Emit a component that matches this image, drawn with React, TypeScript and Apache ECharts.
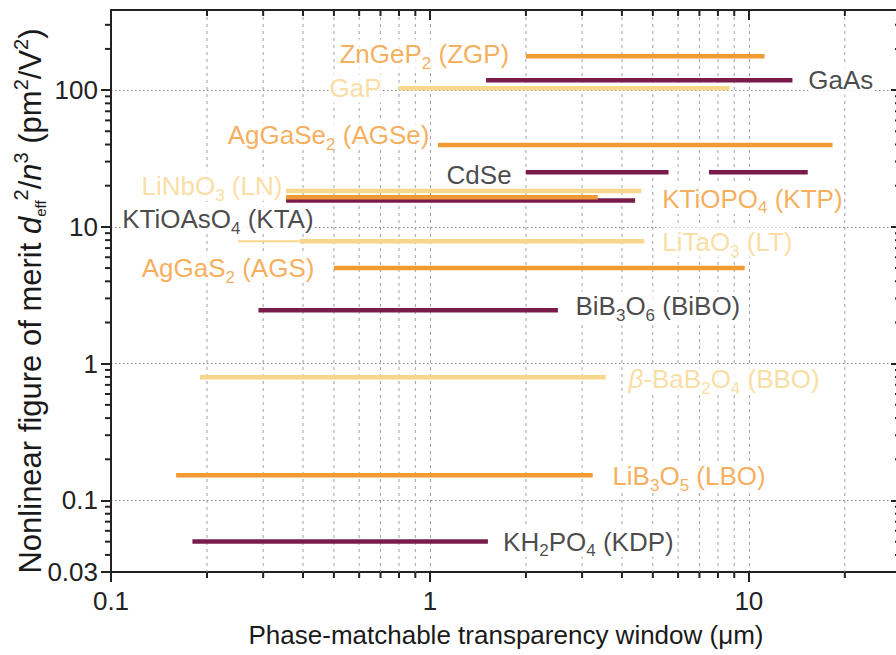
import { useEffect, useRef } from "react";
import * as echarts from "echarts";

const FONT = "'Liberation Sans', Arial, Helvetica, sans-serif";
const COLORS: Record<string, string> = {
  orange: "#F39A33",
  purple: "#7A1C4B",
  yellow: "#F8D68C",
  black: "#1a1a1a",
};
const AXIS_COLOR = "#222";

const X_MIN = 0.1;
const X_MAX = 30;
const Y_MIN = 0.03;
const Y_MAX = 385;

// tick labels
const xTickLabels = ["0.1", "1", "10"];
const yTickLabels = ["0.03", "0.1", "1", "10", "100"];
const xMinorTicks = [0.2, 0.3, 0.4, 0.5, 0.6, 0.7, 0.8, 0.9, 2, 3, 4, 5, 6, 7, 8, 9, 20];
const yMinorTicks = [
  0.04, 0.05, 0.06, 0.07, 0.08, 0.09,
  0.2, 0.3, 0.4, 0.5, 0.6, 0.7, 0.8, 0.9,
  2, 3, 4, 5, 6, 7, 8, 9,
  20, 30, 40, 50, 60, 70, 80, 90,
  200, 300,
];

// segments: phase-matchable transparency window (µm) vs figure of merit
const segCrystal = ["ZGP", "GaAs", "GaP", "AGSe", "CdSe", "CdSe", "LN", "KTA", "KTP", "LT", "LT", "AGS", "BiBO", "BBO", "LBO", "KDP"];
const segGroup = ["orange", "purple", "yellow", "orange", "purple", "purple", "yellow", "purple", "orange", "yellow", "yellow", "orange", "purple", "yellow", "orange", "purple"];
const segStart = [2.0, 1.5, 0.8, 1.06, 2.0, 7.5, 0.354, 0.354, 0.354, 0.25, 0.39, 0.5, 0.29, 0.19, 0.16, 0.18];
const segEnd = [11.2, 13.7, 8.7, 18.3, 5.6, 15.3, 4.6, 4.4, 3.36, 0.39, 4.7, 9.7, 2.52, 3.56, 3.24, 1.52];
const segMerit = [177, 118, 103, 39.6, 25.1, 25.1, 18.3, 15.6, 16.5, 7.85, 7.85, 5.0, 2.46, 0.795, 0.153, 0.0502];
const segThin = [false, false, false, false, false, false, false, false, false, true, false, false, false, false, false, false];

// labels
const labelTexts = [
  "ZnGeP{s|2} (ZGP)",
  "GaAs",
  "GaP",
  "AgGaSe{s|2} (AGSe)",
  "CdSe",
  "LiNbO{s|3} (LN)",
  "KTiOPO{s|4} (KTP)",
  "KTiOAsO{s|4} (KTA)",
  "LiTaO{s|3} (LT)",
  "AgGaS{s|2} (AGS)",
  "BiB{s|3}O{s|6} (BiBO)",
  "{i|β}-BaB{s|2}O{s|4} (BBO)",
  "LiB{s|3}O{s|5} (LBO)",
  "KH{s|2}PO{s|4} (KDP)",
];
const labelGroup = ["orange", "black", "yellow", "orange", "black", "yellow", "orange", "black", "yellow", "orange", "black", "yellow", "orange", "black"];
const labelX = [1.78, 15.3, 0.708, 1.0, 1.81, 0.346, 5.33, 0.108, 5.33, 0.436, 2.85, 4.18, 3.72, 1.69];
const labelY = [183, 118, 103, 46.9, 23.9, 19.9, 16.0, 11.4, 7.73, 5.0, 2.63, 0.769, 0.15, 0.05];
const labelSide = ["left", "right", "left", "left", "left", "left", "right", "right", "right", "left", "right", "right", "right", "right"];

const X_TITLE = "Phase-matchable transparency window (μm)";
const Y_TITLE = "Nonlinear figure of merit {i|d}{e|eff}{p|2}/{i|n}{p|3} (pm{p|2}/V{p|2})";

function matchLabel(list: string[], v: number): string {
  const m = list.find((s) => Math.abs(Math.log10(parseFloat(s)) - Math.log10(v)) < 1e-6);
  return m ?? "";
}

function makeRich(color: string) {
  return {
    s: { fontSize: 17, lineHeight: 17, padding: [18, 0, 0, 0], color, fontFamily: FONT },
    i: { fontSize: 26, lineHeight: 30, fontStyle: "italic", color, fontFamily: FONT },
  };
}

export default function App() {
  const ref = useRef<HTMLDivElement>(null);

  useEffect(() => {
    if (!ref.current) return;
    const chart = echarts.init(ref.current, undefined, { renderer: "svg" });

    const segmentSeries = segCrystal.map((name, i) => ({
      type: "line",
      name,
      xAxisIndex: 0,
      yAxisIndex: 0,
      data: [
        [segStart[i], segMerit[i]],
        [segEnd[i], segMerit[i]],
      ],
      symbol: "none",
      showSymbol: false,
      silent: true,
      z: 3,
      lineStyle: { color: COLORS[segGroup[i]], width: segThin[i] ? 2 : 4.5, cap: "butt" },
    }));

    const labelSeries = {
      type: "scatter",
      xAxisIndex: 0,
      yAxisIndex: 0,
      symbolSize: 1,
      silent: true,
      z: 2,
      itemStyle: { color: "rgba(0,0,0,0)" },
      data: labelTexts.map((t, i) => ({
        value: [labelX[i], labelY[i]],
        label: {
          show: true,
          position: labelSide[i],
          distance: 0,
          formatter: t,
          color: COLORS[labelGroup[i]],
          fontSize: 26,
          lineHeight: 30,
          fontFamily: FONT,
          backgroundColor: "#fff",
          rich: makeRich(COLORS[labelGroup[i]]),
        },
      })),
    };

    const minorGrid = {
      type: "custom",
      xAxisIndex: 0,
      yAxisIndex: 0,
      silent: true,
      clip: false,
      z: 1,
      data: xMinorTicks.map((v) => [v, 1]),
      renderItem: (_p: any, api: any) => {
        const v = api.value(0);
        const b = api.coord([v, Y_MIN]);
        const t = api.coord([v, Y_MAX]);
        return {
          type: "line",
          shape: { x1: b[0], y1: t[1], x2: b[0], y2: b[1] },
          style: { stroke: "#a0a0a0", lineWidth: 1, lineDash: [3, 4] },
        };
      },
    };

    const xMinorTickSeries = {
      type: "custom",
      xAxisIndex: 0,
      yAxisIndex: 0,
      silent: true,
      clip: false,
      z: 6,
      data: xMinorTicks.map((v) => [v, 1]),
      renderItem: (_p: any, api: any) => {
        const v = api.value(0);
        const b = api.coord([v, Y_MIN]);
        const t = api.coord([v, Y_MAX]);
        return {
          type: "group",
          children: [
            { type: "line", shape: { x1: b[0], y1: b[1], x2: b[0], y2: b[1] + 6 }, style: { stroke: AXIS_COLOR, lineWidth: 2 } },
            { type: "line", shape: { x1: t[0], y1: t[1], x2: t[0], y2: t[1] + 6 }, style: { stroke: AXIS_COLOR, lineWidth: 2 } },
          ],
        };
      },
    };

    const yMinorTickSeries = {
      type: "custom",
      xAxisIndex: 0,
      yAxisIndex: 0,
      silent: true,
      clip: false,
      z: 6,
      data: yMinorTicks.map((v) => [1, v]),
      renderItem: (_p: any, api: any) => {
        const v = api.value(1);
        const l = api.coord([X_MIN, v]);
        const r = api.coord([X_MAX, v]);
        return {
          type: "group",
          children: [
            { type: "line", shape: { x1: l[0] - 6, y1: l[1], x2: l[0], y2: l[1] }, style: { stroke: AXIS_COLOR, lineWidth: 2 } },
            { type: "line", shape: { x1: r[0] - 6, y1: r[1], x2: r[0], y2: r[1] }, style: { stroke: AXIS_COLOR, lineWidth: 2 } },
          ],
        };
      },
    };

    const axisCommon = {
      type: "log",
      logBase: 10,
      axisLine: { show: true, onZero: false, lineStyle: { color: AXIS_COLOR, width: 2 } },
      axisTick: { show: true, length: 10, lineStyle: { color: AXIS_COLOR, width: 2 } },
      minorTick: { show: false },
      minorSplitLine: { show: false },
    };

    const option: any = {
      animation: false,
      backgroundColor: "#fff",
      textStyle: { fontFamily: FONT },
      grid: {
        left: 111,
        top: 10,
        right: -5,
        bottom: 83,
        containLabel: false,
        outerBoundsMode: "none",
      },
      xAxis: [
        {
          ...axisCommon,
          position: "bottom",
          min: X_MIN,
          max: X_MAX,
          axisTick: { ...axisCommon.axisTick, inside: false },
          axisLabel: {
            show: true,
            fontSize: 26,
            color: AXIS_COLOR,
            fontFamily: FONT,
            margin: 16,
            showMinLabel: true,
            showMaxLabel: false,
            formatter: (v: number) => matchLabel(xTickLabels, v),
          },
          splitLine: { show: true, lineStyle: { color: "#a0a0a0", width: 1, type: [3, 4] } },
          name: X_TITLE,
          nameLocation: "middle",
          nameGap: 50,
          nameMoveOverlap: false,
          nameTextStyle: { fontSize: 26, color: COLORS.black, fontFamily: FONT },
        },
        {
          ...axisCommon,
          position: "top",
          min: X_MIN,
          max: X_MAX,
          axisTick: { ...axisCommon.axisTick, inside: true },
          axisLabel: { show: false },
          splitLine: { show: false },
        },
      ],
      yAxis: [
        {
          ...axisCommon,
          position: "left",
          min: Y_MIN,
          max: Y_MAX,
          axisTick: { ...axisCommon.axisTick, inside: false },
          axisLabel: {
            show: true,
            fontSize: 26,
            color: AXIS_COLOR,
            fontFamily: FONT,
            margin: 13,
            showMinLabel: true,
            showMaxLabel: false,
            formatter: (v: number) => matchLabel(yTickLabels, v),
          },
          splitLine: { show: true, lineStyle: { color: "#808080", width: 1.2, type: [1.5, 2.5] } },
          name: Y_TITLE,
          nameLocation: "middle",
          nameGap: 63,
          nameRotate: 90,
          nameMoveOverlap: false,
          nameTextStyle: {
            fontSize: 31,
            lineHeight: 36,
            color: COLORS.black,
            fontFamily: FONT,
            padding: [0, 20, 0, 0],
            rich: {
              i: { fontSize: 31, lineHeight: 36, fontStyle: "italic", color: COLORS.black, fontFamily: FONT },
              e: { fontSize: 15, lineHeight: 15, padding: [21, 0, 0, 0], color: COLORS.black, fontFamily: FONT },
              p: { fontSize: 20, lineHeight: 20, padding: [0, 0, 19, 0], color: COLORS.black, fontFamily: FONT },
            },
          },
        },
        {
          ...axisCommon,
          position: "right",
          min: Y_MIN,
          max: Y_MAX,
          axisTick: { ...axisCommon.axisTick, inside: true },
          axisLabel: { show: false },
          splitLine: { show: false },
        },
      ],
      series: [minorGrid, labelSeries, ...segmentSeries, xMinorTickSeries, yMinorTickSeries],
    };

    chart.setOption(option);
    return () => chart.dispose();
  }, []);

  return (
    <div
      ref={ref}
      style={{ position: "absolute", left: 0, top: 0, width: 896, height: 655, background: "#fff" }}
    />
  );
}
